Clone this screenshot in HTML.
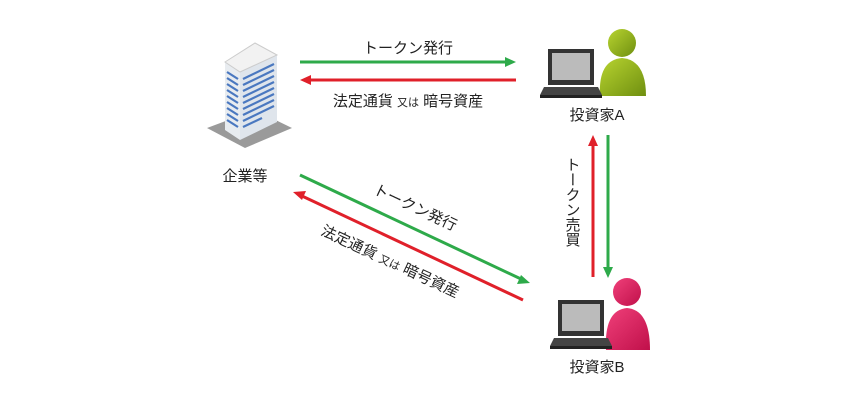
<!DOCTYPE html>
<html><head><meta charset="utf-8"><style>
body{margin:0;background:#fff;width:860px;height:400px;overflow:hidden}
text{font-family:"Liberation Sans","Noto Sans CJK JP",sans-serif;fill:#222}
</style></head><body>
<svg width="860" height="400" viewBox="0 0 860 400" xmlns="http://www.w3.org/2000/svg">
<defs>
<linearGradient id="gA" x1="0" y1="0" x2="1" y2="1"><stop offset="0" stop-color="#b8d430"/><stop offset="1" stop-color="#6f8f10"/></linearGradient>
<linearGradient id="gB" x1="0" y1="0" x2="1" y2="1"><stop offset="0" stop-color="#f0407a"/><stop offset="1" stop-color="#c0104a"/></linearGradient>
<g id="lap">
<rect x="0" y="0" width="46" height="36" fill="#333"/>
<rect x="4" y="4" width="38" height="27" fill="#bbb"/>
<polygon points="-4,38 50,38 54,46 -8,46" fill="#444"/>
<rect x="-8" y="46" width="62" height="3" fill="#222"/>
</g>
</defs>
<!-- building -->
<polygon points="207,128 255,110 292,128 245,148" fill="#9a9a9a"/>
<polygon points="225,62 240,72 240,140 225,130" fill="#e8ecf0"/>
<polygon points="240,72 277,55 277,122 240,140" fill="#dfe5ec"/>
<polygon points="225,62 255,43 277,55 240,72" fill="#f2f2f2" stroke="#ccc"/>
<g stroke="#4a78c0" stroke-width="2.2">
<line x1="227" y1="72" x2="238" y2="79"/><line x1="227" y1="78" x2="238" y2="85"/><line x1="227" y1="84" x2="238" y2="91"/><line x1="227" y1="90" x2="238" y2="97"/><line x1="227" y1="96" x2="238" y2="103"/><line x1="227" y1="102" x2="238" y2="109"/><line x1="227" y1="108" x2="238" y2="115"/><line x1="227" y1="114" x2="238" y2="121"/><line x1="227" y1="120" x2="238" y2="127"/>
<line x1="243" y1="79" x2="274" y2="64"/><line x1="243" y1="85" x2="274" y2="70"/><line x1="243" y1="91" x2="274" y2="76"/><line x1="243" y1="97" x2="274" y2="82"/><line x1="243" y1="103" x2="274" y2="88"/><line x1="243" y1="109" x2="274" y2="94"/><line x1="243" y1="115" x2="274" y2="100"/><line x1="243" y1="121" x2="274" y2="106"/><line x1="243" y1="127" x2="262" y2="118"/>
</g>
<text x="245" y="181" font-size="15" text-anchor="middle">企業等</text>
<!-- top arrows -->
<line x1="300" y1="62" x2="507" y2="62" stroke="#2eaa4a" stroke-width="3"/>
<polygon points="516,62 505,57 505,67" fill="#2eaa4a"/>
<line x1="309" y1="80" x2="516" y2="80" stroke="#e0202a" stroke-width="3"/>
<polygon points="300,80 311,75 311,85" fill="#e0202a"/>
<text x="408" y="53" font-size="15" text-anchor="middle">トークン発行</text>
<text x="408" y="106" font-size="15" text-anchor="middle">法定通貨 <tspan font-size="11">又は</tspan> 暗号資産</text>
<!-- investor A -->
<circle cx="622" cy="43" r="14" fill="url(#gA)"/>
<path d="M600,96 Q598,60 622,58 Q646,60 646,96 Z" fill="url(#gA)"/>
<use href="#lap" x="548" y="49"/>
<text x="597" y="120" font-size="15" text-anchor="middle">投資家A</text>
<!-- vertical arrows -->
<line x1="593" y1="145" x2="593" y2="277" stroke="#e0202a" stroke-width="3"/>
<polygon points="593,135 588,146 598,146" fill="#e0202a"/>
<line x1="608" y1="135" x2="608" y2="268" stroke="#2eaa4a" stroke-width="3"/>
<polygon points="608,278 603,267 613,267" fill="#2eaa4a"/>
<text font-size="15" x="572" y="157" style="writing-mode:vertical-rl">トークン売買</text>
<!-- diagonal arrows -->
<line x1="300" y1="175" x2="521" y2="279" stroke="#2eaa4a" stroke-width="3"/>
<polygon points="530,283 517,284 521,275" fill="#2eaa4a"/>
<line x1="302" y1="196" x2="523" y2="300" stroke="#e0202a" stroke-width="3"/>
<polygon points="293,192 306,191 302,200" fill="#e0202a"/>
<text transform="translate(413,212) rotate(25)" font-size="15" text-anchor="middle">トークン発行</text>
<text transform="translate(388,266) rotate(25)" font-size="15" text-anchor="middle">法定通貨 <tspan font-size="11">又は</tspan> 暗号資産</text>
<!-- investor B -->
<circle cx="627" cy="292" r="14" fill="url(#gB)"/>
<path d="M606,350 Q604,310 627,308 Q650,310 650,350 Z" fill="url(#gB)"/>
<use href="#lap" x="558" y="300"/>
<text x="597" y="372" font-size="15" text-anchor="middle">投資家B</text>
</svg>
</body></html>
